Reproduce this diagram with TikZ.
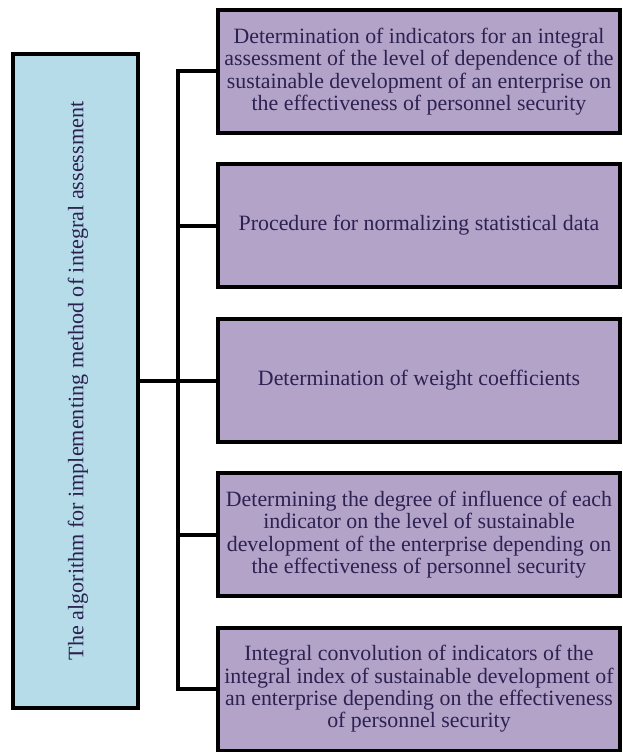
\documentclass[tikz,border=0pt]{standalone}
\usepackage{fontspec}
\setmainfont{Liberation Serif}
\definecolor{stepfill}{HTML}{B3A3C9}
\definecolor{headfill}{HTML}{B5DCE8}
\definecolor{inktext}{HTML}{2C2150}
\begin{document}
\begin{tikzpicture}[x=0.75pt,y=-0.75pt,
  box/.style={draw=black,line width=3pt,rectangle,inner sep=0pt,
    text=inktext,align=center,font=\fontsize{16.4}{16.8}\selectfont},
  stepbox/.style={box,fill=stepfill,minimum width=301.5pt,minimum height=92.25pt},
  headbox/.style={box,fill=headfill,minimum width=93.75pt,minimum height=490.5pt},
  link/.style={draw=black,line width=3pt}]
\useasboundingbox (0,0) rectangle (622,752);
% the main block with rotated title
\node[headbox] (head) at (75.5,381) {};
\node[rotate=90,text=inktext,font=\fontsize{16.6}{16.8}\selectfont] (title) at (78,381)
  {The algorithm for implementing method of integral assessment};
% the five stages
\node[stepbox] (s1) at (419,71.5) {Determination of indicators for an integral\\assessment of the level of dependence of the\\sustainable development of an enterprise on\\the effectiveness of personnel security};
\node[stepbox] (s2) at (419,225.5) {Procedure for normalizing statistical data};
\node[stepbox] (s3) at (419,380.5) {Determination of weight coefficients};
\node[stepbox] (s4) at (419,534.5) {Determining the degree of influence of each\\indicator on the level of sustainable\\development of the enterprise depending on\\the effectiveness of personnel security};
\node[stepbox] (s5) at (419,689) {Integral convolution of indicators of the\\integral index of sustainable development of\\an enterprise depending on the effectiveness\\of personnel security};
% vertical bus joining the stages
\coordinate (bus) at (178,0);
\draw[link] (s1.west) -- (s1.west -| bus) -- (s5.west -| bus) -- (s5.west);
\draw[link] (s2.west) -- (s2.west -| bus);
\draw[link] (s4.west) -- (s4.west -| bus);
\draw[link] (head.east |- s3.west) -- (s3.west);
\end{tikzpicture}
\end{document}
